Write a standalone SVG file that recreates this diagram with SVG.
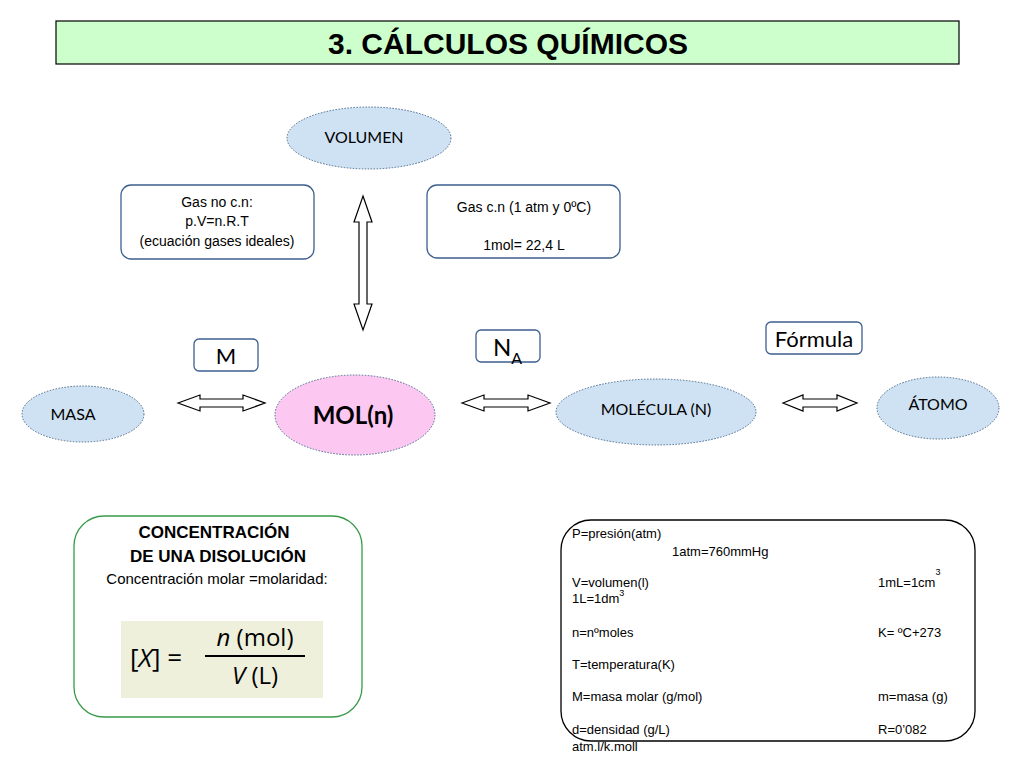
<svg xmlns="http://www.w3.org/2000/svg" width="1024" height="768" viewBox="0 0 1024 768">
<style>
text{font-family:"Liberation Sans",Arial,sans-serif;fill:#000}
.ell{fill:#cfe2f3;stroke:#4a6a8a;stroke-width:1;stroke-dasharray:1.5 1.5}
.box{fill:#fff;stroke:#3d5f8f;stroke-width:1.3}
.arr{fill:#fff;stroke:#000;stroke-width:1.2}
.cal{font-family:Lato,"Open Sans",sans-serif}
.s{font-size:13px}
</style>
<rect width="1024" height="768" fill="#fff"/>
<g id="title"><rect x="56" y="21" width="903" height="43" fill="#ccffcc" stroke="#000" stroke-width="1.2"/>
<text x="508" y="54" font-size="30" font-weight="bold" text-anchor="middle">3. CÁLCULOS QUÍMICOS</text></g>
<g id="volumen"><ellipse class="ell" cx="369" cy="138" rx="82" ry="31"/><text class="cal" x="364" y="143" font-size="16" text-anchor="middle">VOLUMEN</text></g>
<g id="gasnocn"><rect class="box" x="121" y="185" width="193" height="74" rx="10"/>
<text x="217" y="207" font-size="14" text-anchor="middle">Gas no c.n:</text>
<text x="217" y="226" font-size="14" text-anchor="middle">p.V=n.R.T</text>
<text x="217" y="246" font-size="14" text-anchor="middle">(ecuación gases ideales)</text></g>
<g id="gascn"><rect class="box" x="427" y="185" width="193" height="73" rx="10"/>
<text x="524" y="212" font-size="14" text-anchor="middle">Gas c.n (1 atm y 0ºC)</text>
<text x="524" y="250" font-size="14" text-anchor="middle">1mol= 22,4 L</text></g>
<g id="M"><rect class="box" x="194" y="339" width="64" height="32" rx="5"/><text class="cal" x="226" y="364" font-size="22" text-anchor="middle">M</text></g>
<g id="NA"><rect class="box" x="476" y="330" width="64" height="32" rx="5"/><text class="cal" x="493" y="356" font-size="24">N<tspan font-size="16" dy="8">A</tspan></text></g>
<g id="formula"><rect class="box" x="766" y="322" width="96" height="32" rx="5"/><text class="cal" x="814" y="347" font-size="22" text-anchor="middle">Fórmula</text></g>
<g id="masa"><ellipse class="ell" cx="83" cy="414" rx="61" ry="28"/><text class="cal" x="73" y="420" font-size="16" text-anchor="middle">MASA</text></g>
<g id="mol"><ellipse class="ell" cx="355" cy="415" rx="80" ry="40" style="fill:#fcc8f2"/><text class="cal" x="353" y="424" font-size="24" font-weight="bold" text-anchor="middle">MOL(n)</text></g>
<g id="molecula"><ellipse class="ell" cx="656" cy="412" rx="100" ry="33"/><text class="cal" x="656" y="415" font-size="16" text-anchor="middle">MOLÉCULA (N)</text></g>
<g id="atomo"><ellipse class="ell" cx="938" cy="408" rx="61" ry="31"/><text class="cal" x="938" y="410" font-size="16" text-anchor="middle">ÁTOMO</text></g>
<g id="connectors">
<polygon class="arr" points="178,403 200,395 200,399 243,399 243,395 265,403 243,411 243,407 200,407 200,411"/>
<polygon class="arr" points="462,403 484,395 484,399 528,399 528,395 550,403 528,411 528,407 484,407 484,411"/>
<polygon class="arr" points="783,403 803,395 803,399 837,399 837,395 857,403 837,411 837,407 803,407 803,411"/>
<polygon class="arr" points="363,196 372,222 367,222 367,304 372,304 363,330 354,304 359,304 359,222 354,222"/>
</g>
<g id="concentracion"><rect x="74" y="516" width="288" height="201" rx="30" fill="#fff" stroke="#3a9a4a" stroke-width="1.3"/>
<text x="214" y="538" font-size="17" font-weight="bold" text-anchor="middle">CONCENTRACIÓN</text>
<text x="218" y="562" font-size="17" font-weight="bold" text-anchor="middle">DE UNA DISOLUCIÓN</text>
<text x="217" y="584" font-size="15" text-anchor="middle">Concentración molar =molaridad:</text>
<rect x="121" y="621" width="202" height="77" fill="#eef0dc"/>
<text x="130" y="667" font-size="26" style="font-family:'Open Sans',sans-serif">[<tspan font-style="italic">X</tspan>] =</text>
<line x1="205" y1="656" x2="305" y2="656" stroke="#000" stroke-width="2"/>
<text x="255" y="646" font-size="24" text-anchor="middle" style="font-family:'Open Sans',sans-serif"><tspan font-style="italic">n</tspan> (mol)</text>
<text x="255" y="684" font-size="24" text-anchor="middle" style="font-family:'Open Sans',sans-serif"><tspan font-style="italic">V</tspan> (L)</text></g>
<g id="variables"><rect x="561" y="520" width="414" height="221" rx="30" fill="#fff" stroke="#000" stroke-width="1.3"/>
<text class="s" x="572" y="538">P=presión(atm)</text>
<text class="s" x="672" y="556">1atm=760mmHg</text>
<text class="s" x="572" y="587">V=volumen(l)</text>
<text class="s" x="572" y="603">1L=1dm<tspan font-size="9" dy="-7">3</tspan></text>
<text class="s" x="878" y="587">1mL=1cm<tspan font-size="9" dy="-12">3</tspan></text>
<text class="s" x="572" y="637">n=nºmoles</text>
<text class="s" x="878" y="637">K= ºC+273</text>
<text class="s" x="572" y="669">T=temperatura(K)</text>
<text class="s" x="572" y="701">M=masa molar (g/mol)</text>
<text class="s" x="878" y="701">m=masa (g)</text>
<text class="s" x="572" y="734">d=densidad (g/L)</text>
<text class="s" x="878" y="734">R=0’082</text>
<text class="s" x="572" y="751">atm.l/k.moll</text>
</g>
</svg>
